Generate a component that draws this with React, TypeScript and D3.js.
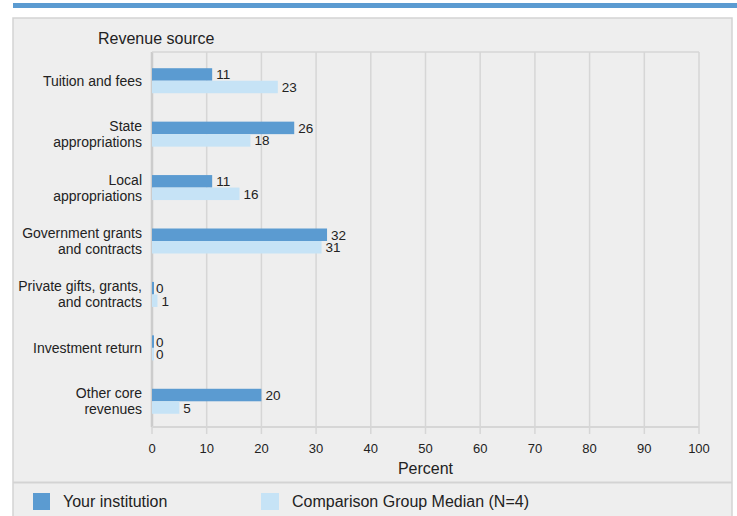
import React from "react";
import * as d3 from "d3";

const categories = [
  "Tuition and fees",
  "State\nappropriations",
  "Local\nappropriations",
  "Government grants\nand contracts",
  "Private gifts, grants,\nand contracts",
  "Investment return",
  "Other core\nrevenues",
];
const yourInstitution = [11, 26, 11, 32, 0, 0, 20];
const comparisonMedian = [23, 18, 16, 31, 1, 0, 5];
const xTicks = [0, 10, 20, 30, 40, 50, 60, 70, 80, 90, 100];
const seriesNames = ["Your institution", "Comparison Group Median (N=4)"];

const W = 737;
const H = 516;
const DARK = "#5b9bd1";
const LIGHT = "#c6e3f6";
const GRID = "#d6d6d6";
const FONT = "'Liberation Sans', Arial, Helvetica, sans-serif";

export default function App() {
  const x = d3.scaleLinear().domain([0, 100]).range([152, 699]);
  const y = d3.scaleBand<string>().domain(categories).range([54, 428]);
  const plotTop = 52;
  const axisY = 427;
  const barH = 12.5;

  return (
    <svg
      width={W}
      height={H}
      style={{ position: "absolute", left: 0, top: 0, fontFamily: FONT }}
    >
      <rect x={0} y={0} width={W} height={H} fill="#ffffff" />
      <rect x={13} y={3} width={W - 13} height={5} fill={DARK} />
      <rect x={13} y={18} width={719} height={H} fill="#eeeeee" stroke="#d3d3d3" strokeWidth={1.5} />
      <line x1={13} x2={732} y1={482.5} y2={482.5} stroke="#d3d3d3" strokeWidth={2} />

      <text x={98} y={44} fontSize={16} fill="#222">Revenue source</text>

      {/* gridlines */}
      {xTicks.map((t) => (
        <line
          key={"g" + t}
          x1={x(t)}
          x2={x(t)}
          y1={plotTop}
          y2={axisY}
          stroke={t === 0 ? "#cccccc" : GRID}
          strokeWidth={t === 0 ? 2.5 : 1.5}
        />
      ))}
      <line x1={x(0)} x2={x(100)} y1={plotTop} y2={plotTop} stroke={GRID} strokeWidth={1.5} />
      <line x1={x(0)} x2={x(100)} y1={axisY} y2={axisY} stroke={GRID} strokeWidth={2} />
      {xTicks.map((t) => (
        <g key={"t" + t}>
          <line x1={x(t)} x2={x(t)} y1={axisY} y2={434} stroke={GRID} strokeWidth={1.5} />
          <text x={x(t)} y={453} fontSize={13} textAnchor="middle" fill="#222">{t}</text>
        </g>
      ))}
      <text x={x(50)} y={474} fontSize={16} textAnchor="middle" fill="#222">Percent</text>

      {/* category labels */}
      {categories.map((c) => {
        const lines = c.split("\n");
        const cy = (y(c) as number) + y.bandwidth() / 2;
        return (
          <text key={"c" + c} x={142} fontSize={14} textAnchor="end" fill="#222">
            {lines.map((l, i) => (
              <tspan key={i} x={142} y={cy + 5 + (i - (lines.length - 1) / 2) * 16}>{l}</tspan>
            ))}
          </text>
        );
      })}

      {/* bars */}
      {categories.map((c, i) => {
        const cy = (y(c) as number) + y.bandwidth() / 2;
        const v1 = yourInstitution[i];
        const v2 = comparisonMedian[i];
        const w1 = Math.max(x(v1) - x(0), 2);
        const w2 = Math.max(x(v2) - x(0), 2);
        return (
          <g key={"b" + c}>
            <rect x={x(0)} y={cy - barH} width={w1} height={barH} fill={DARK} />
            <rect x={x(0)} y={cy} width={w2} height={barH} fill={LIGHT} />
            <text x={x(v1) + 4} y={cy - barH / 2 + 5} fontSize={13.5} fill="#222">{v1}</text>
            <text x={x(v2) + 4} y={cy + barH / 2 + 5} fontSize={13.5} fill="#222">{v2}</text>
          </g>
        );
      })}

      {/* legend */}
      <rect x={33} y={493} width={17} height={17} fill={DARK} />
      <text x={63} y={507} fontSize={16} fill="#222">{seriesNames[0]}</text>
      <rect x={261} y={493} width={18} height={17} fill={LIGHT} />
      <text x={292} y={507} fontSize={16} fill="#222">{seriesNames[1]}</text>
    </svg>
  );
}
